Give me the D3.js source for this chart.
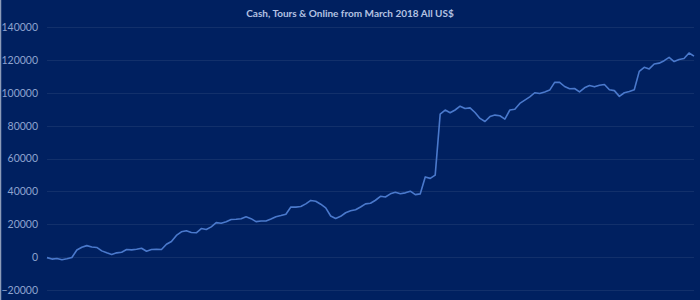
<!DOCTYPE html>
<html>
<head>
<meta charset="utf-8">
<script src="https://cdn.jsdelivr.net/npm/d3@7"></script>
<style>
  body { margin: 0; background: #002060; }
  svg { display: block; }
</style>
</head>
<body>
<svg id="chart"></svg>
<script>
// cumulative result in US$ (one value per ~5px)
var balance = [
  -300, -1200, -800, -1600, -1000, -200, 4300, 6000, 7000, 6200,
  5900, 3800, 2600, 1600, 2600, 3000, 4600, 4400, 4800, 5400,
  3600, 4600, 4800, 4600, 7800, 9500, 13200, 15400, 16000, 15000,
  14800, 17400, 16800, 18400, 21000, 20600, 21500, 22900, 23000, 23300,
  24500, 23400, 21600, 22000, 22000, 23200, 24600, 25300, 26100, 30500,
  30400, 30800, 32400, 34500, 34000, 32200, 30000, 25000, 23500, 24800,
  27000, 28200, 28800, 30500, 32400, 32800, 34600, 37000, 36600, 38500,
  39500, 38600, 39100, 40100, 38000, 38500, 48800, 47900, 49900, 87000,
  89500, 87800, 89500, 91800, 90400, 90800, 88000, 84400, 82500, 85500,
  86400, 86000, 84000, 89500, 90000, 93500, 95500, 97500, 100000, 99500,
  100500, 101600, 106300, 106300, 103800, 102400, 102600, 100500, 103000, 104400,
  103600, 104600, 105000, 101800, 101300, 97800, 100000, 100800, 101800, 113000,
  115500, 114500, 117500, 118000, 119500, 121500, 119000, 120200, 120800, 124200,
  122300
];
var yTicks = [-20000, 0, 20000, 40000, 60000, 80000, 100000, 120000, 140000];
var title = "Cash, Tours & Online from March 2018 All US$";

var width = 700, height = 300;
var margin = {top: 27, right: 6, bottom: 10, left: 47};

var svg = d3.select('#chart')
    .attr('width', width)
    .attr('height', height);

svg.append('rect')
    .attr('width', width).attr('height', height)
    .attr('fill', '#002060');

// thin light frame on the left edge
svg.append('line')
    .attr('x1', 0.5).attr('x2', 0.5)
    .attr('y1', 0).attr('y2', height)
    .attr('stroke', '#8c9bb8').attr('stroke-width', 1.5);

var x = d3.scaleLinear()
    .domain([0, balance.length - 1])
    .range([margin.left, 694]);

var y = d3.scaleLinear()
    .domain([-20000, 140000])
    .range([290, 27]);

// grid lines
svg.append('g')
    .selectAll('line')
    .data(yTicks)
    .enter().append('line')
    .attr('x1', margin.left).attr('x2', 694)
    .attr('y1', function(d){ return Math.round(y(d)) + 0.5; })
    .attr('y2', function(d){ return Math.round(y(d)) + 0.5; })
    .attr('stroke', '#12306b')
    .attr('stroke-width', 1);

// y axis labels
var yAxis = d3.axisLeft(y).tickValues(yTicks).tickFormat(d3.format('d')).tickSize(0).tickPadding(0);
var axisY = svg.append('g')
    .attr('transform', 'translate(38,0)')
    .call(yAxis);
axisY.select('.domain').remove();
axisY.selectAll('text')
    .attr('fill', '#8ea3cf')
    .style('font-family', 'Lato, "Open Sans", sans-serif')
    .style('font-size', '10.5px');

// the balance line
var line = d3.line()
    .x(function(d, i){ return x(i); })
    .y(function(d){ return y(d); });

svg.append('path')
    .datum(balance)
    .attr('fill', 'none')
    .attr('stroke', '#4a79cc')
    .attr('stroke-width', 1.6)
    .attr('stroke-linejoin', 'round')
    .attr('d', line);

// title
svg.append('text')
    .attr('x', 350).attr('y', 17)
    .attr('text-anchor', 'middle')
    .attr('fill', '#b4c2e2')
    .style('font-family', 'Lato, "Open Sans", sans-serif')
    .style('font-size', '10px')
    .style('font-weight', 'bold')
    .text(title);
</script>
</body>
</html>
